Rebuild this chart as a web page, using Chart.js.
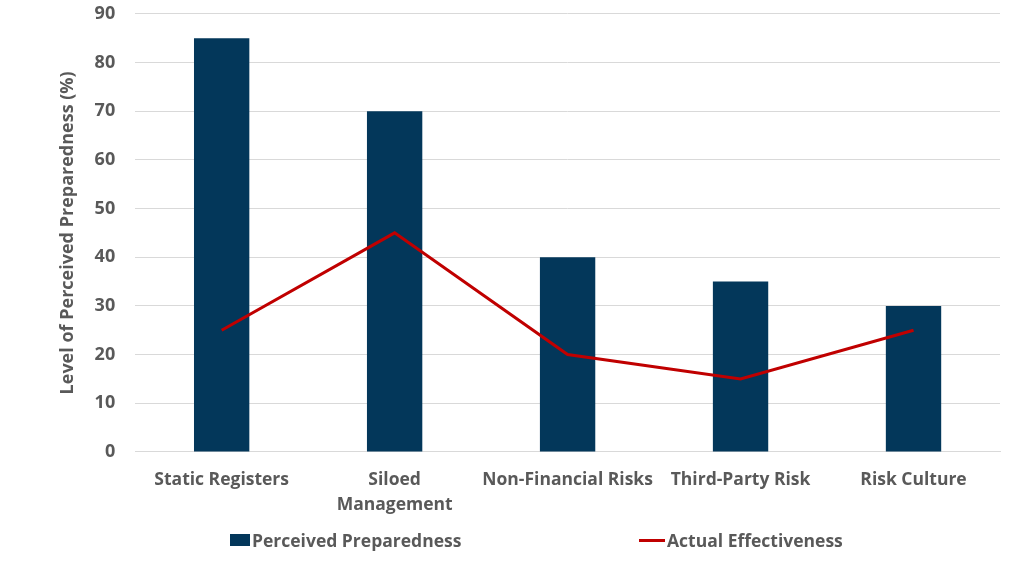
<!DOCTYPE html>
<html lang="en">
<head>
<meta charset="UTF-8">
<title>Perceived Preparedness vs Actual Effectiveness</title>
<script src="https://cdn.jsdelivr.net/npm/chart.js"></script>
<style>
  html, body { margin: 0; padding: 0; background: #fff; }
  #wrap { position: relative; width: 1024px; height: 576px; }
  #legend { position: absolute; top: 527px; left: 0; width: 1024px; height: 26px;
            font-family: 'Open Sans', sans-serif; font-weight: bold; font-size: 17.5px; color: #595959; }
  .item { position: absolute; top: 0; display: flex; align-items: center; height: 26px; }
  .box { width: 20px; height: 12px; background: #03375A; margin-right: 2px; }
  .ln { width: 26px; height: 3px; background: #C00000; margin-right: 2px; }
</style>
</head>
<body>
<div id="wrap">
  <canvas id="chart" width="1024" height="576"></canvas>
  <div id="legend">
    <div class="item" style="left:230px"><span class="box"></span>Perceived Preparedness</div>
    <div class="item" style="left:639px"><span class="ln"></span>Actual Effectiveness</div>
  </div>
</div>
<script>
// Data
const categories = ['Static Registers', ['Siloed', 'Management'], 'Non-Financial Risks', 'Third-Party Risk', 'Risk Culture'];
const perceived = [85, 70, 40, 35, 30];
const actual = [25, 45, 20, 15, 25];

const grey = '#595959';
const font = 'Open Sans';

new Chart(document.getElementById('chart'), {
    data: {
        labels: categories,
        datasets: [
            {
                type: 'line',
                label: 'Actual Effectiveness',
                data: actual,
                borderColor: '#C00000',
                borderWidth: 3,
                pointRadius: 0,
                tension: 0,
                order: 0
            },
            {
                type: 'bar',
                label: 'Perceived Preparedness',
                data: perceived,
                backgroundColor: '#03375A',
                categoryPercentage: 1,
                barPercentage: 0.32,
                order: 1
            }
        ]
    },
    options: {
        responsive: false,
        animation: false,
        layout: { padding: { top: 0, right: 24, bottom: 42, left: 57 } },
        plugins: { legend: { display: false }, tooltip: { enabled: false } },
        scales: {
            x: {
                grid: { display: false, drawTicks: false },
                border: { color: '#D9D9D9', width: 1 },
                ticks: { color: grey, padding: 16, maxRotation: 0, autoSkip: false,
                         font: { family: font, size: 17.5, weight: 'bold', lineHeight: 1.43 } }
            },
            y: {
                min: 0, max: 90,
                ticks: { stepSize: 10, color: grey, padding: 3,
                         font: { family: font, size: 18, weight: 'bold' } },
                grid: { color: '#D9D9D9', drawTicks: true, tickLength: 17, tickColor: 'rgba(0,0,0,0)' },
                border: { display: false },
                title: { display: true, text: 'Level of Perceived Preparedness (%)', color: grey,
                         padding: { top: 0, bottom: 13 },
                         font: { family: font, size: 18, weight: 'bold' } }
            }
        }
    }
});
</script>
</body>
</html>
